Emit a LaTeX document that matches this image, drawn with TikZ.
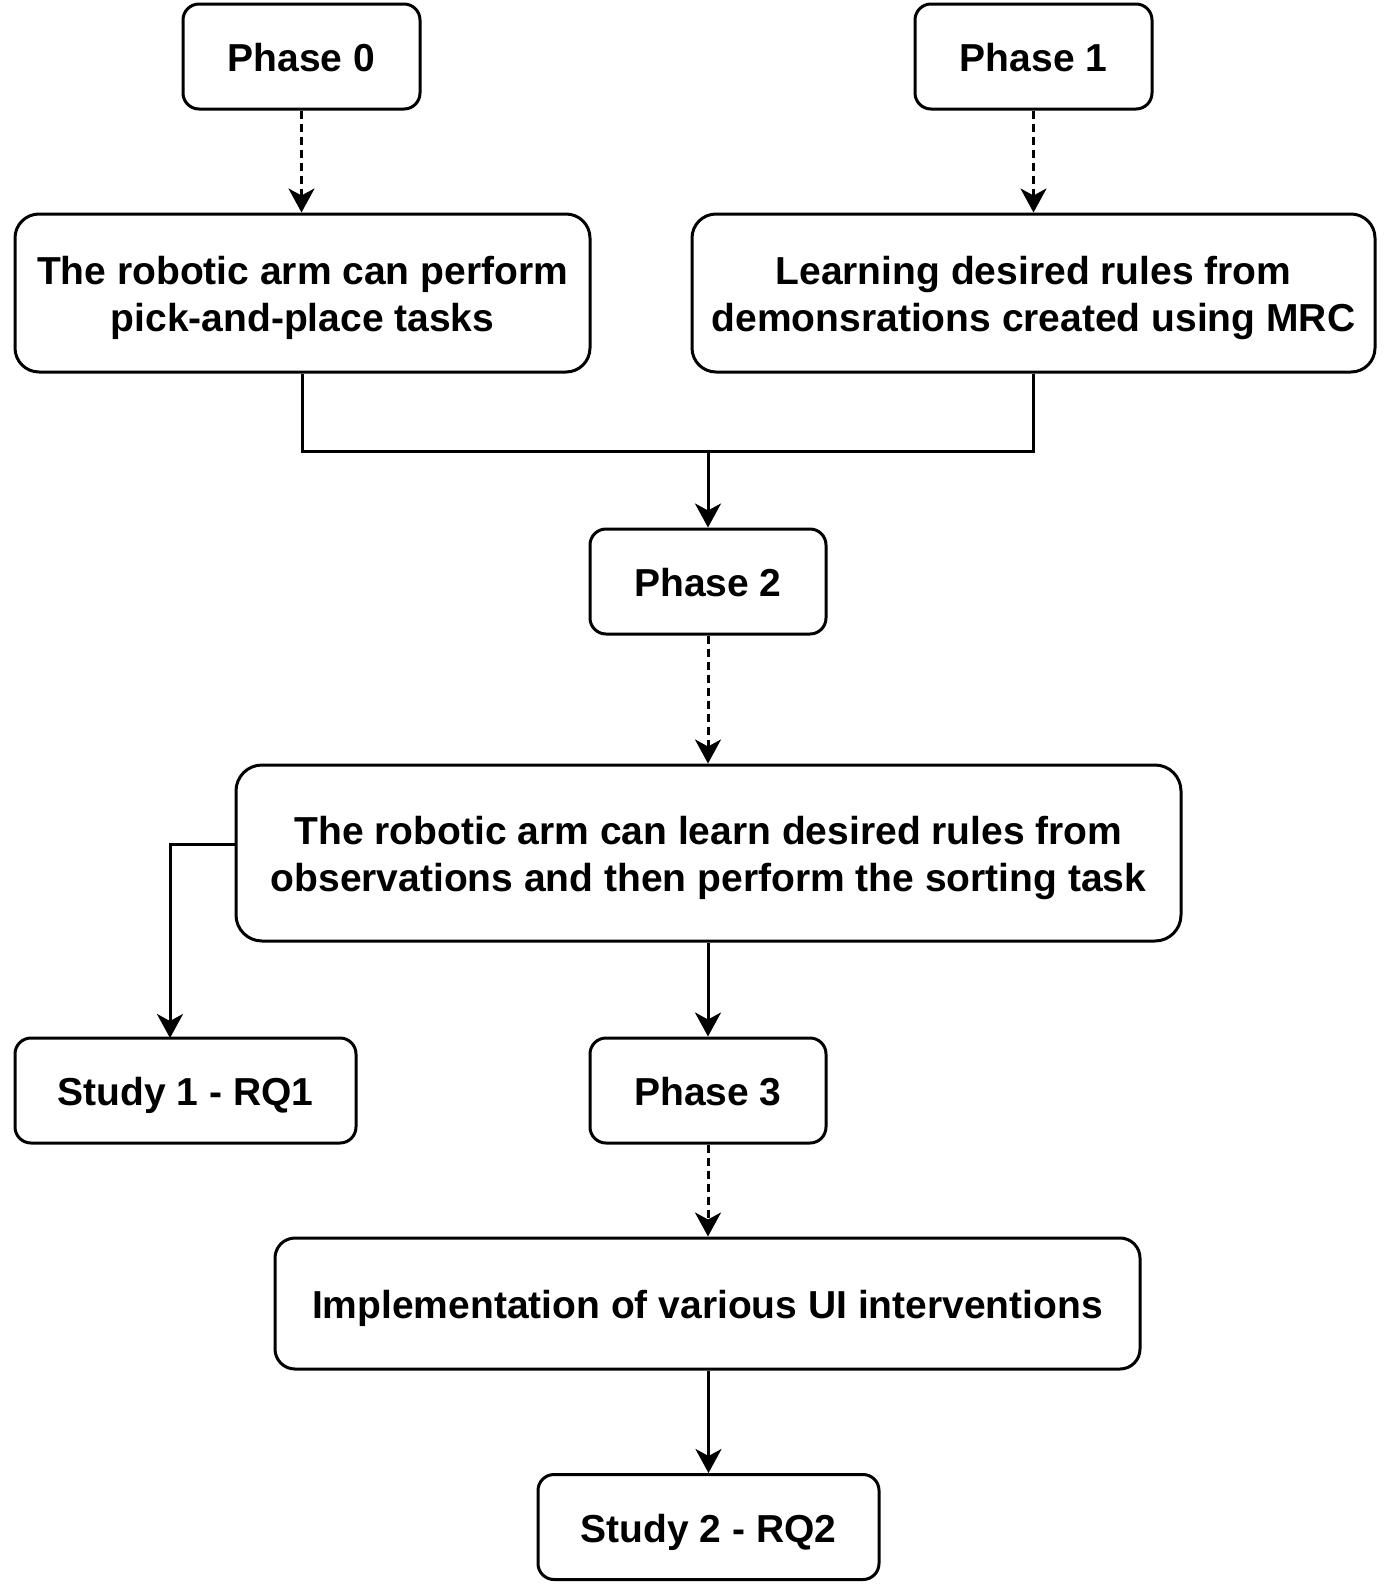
\documentclass[tikz,border=0pt]{standalone}
\usepackage{fontspec}
\setmainfont{Liberation Sans}
\usetikzlibrary{arrows.meta}
\newcommand\boxstrut{\rule[-8.5pt]{0pt}{47pt}}
\tikzset{
  box/.style={draw, line width=3pt, align=center, inner sep=0pt, fill=white,
    font=\fontsize{39}{47}\selectfont\bfseries},
  link/.style={line width=3pt, -{Stealth[length=24pt,width=26pt,inset=7pt]}},
  plainlink/.style={line width=3pt},
  dashlink/.style={link, dash pattern=on 8pt off 5pt},
}
\begin{document}
\begin{tikzpicture}[x=1pt,y=-1pt]
\useasboundingbox[fill=white] (0,0) rectangle (1389,1585);

\node[box, minimum width=237pt, minimum height=105pt, rounded corners=16pt] (p0) at (301.5,56.5) {\boxstrut Phase 0};
\node[box, minimum width=237pt, minimum height=105pt, rounded corners=16pt] (p1) at (1033.5,56.5) {\boxstrut Phase 1};
\node[box, minimum width=575pt, minimum height=158pt, rounded corners=24pt] (a) at (302.5,293) {\boxstrut The robotic arm can perform\\\boxstrut pick-and-place tasks};
\node[box, minimum width=683pt, minimum height=158pt, rounded corners=24pt] (b) at (1033.5,293) {\boxstrut Learning desired rules from\\\boxstrut demonsrations created using MRC};
\node[box, minimum width=236pt, minimum height=105pt, rounded corners=16pt] (p2) at (708,581.5) {\boxstrut Phase 2};
\node[box, minimum width=945pt, minimum height=176pt, rounded corners=26pt] (c) at (708.5,853) {\boxstrut The robotic arm can learn desired rules from\\\boxstrut observations and then perform the sorting task};
\node[box, minimum width=341pt, minimum height=105pt, rounded corners=16pt] (s1) at (185.5,1090.5) {\boxstrut Study 1 - RQ1};
\node[box, minimum width=236pt, minimum height=105pt, rounded corners=16pt] (p3) at (708,1090.5) {\boxstrut Phase 3};
\node[box, minimum width=865pt, minimum height=131pt, rounded corners=20pt] (d) at (707.5,1303.5) {\boxstrut Implementation of various UI interventions};
\node[box, minimum width=341pt, minimum height=105pt, rounded corners=16pt] (s2) at (708.5,1527) {\boxstrut Study 2 - RQ2};

\coordinate (j) at (708,451);
\coordinate (cl) at (236,844);
\coordinate (s1in) at (170,1038);

\draw[dashlink] (p0.south) -- (p0.south |- a.north);
\draw[dashlink] (p1.south) -- (p1.south |- b.north);
\draw[plainlink] (a.south) -- (a.south |- j) -- (b.south |- j) -- (b.south);
\draw[link] (j) -- (p2.north);
\draw[dashlink] (p2.south) -- (p2.south |- c.north);
\draw[link] (cl) -| (s1in);
\draw[link] (c.south -| p3.north) -- (p3.north);
\draw[dashlink] (p3.south) -- (p3.south |- d.north);
\draw[link] (d.south -| s2.north) -- (s2.north);
\end{tikzpicture}
\end{document}
